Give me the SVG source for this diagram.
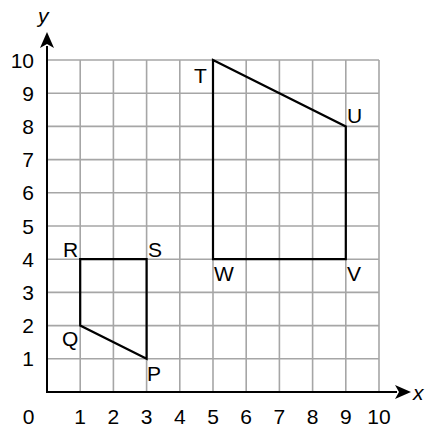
<svg xmlns="http://www.w3.org/2000/svg" width="439" height="435" viewBox="0 0 439 435">
<style>
.grid line{stroke:#a6a6a6;stroke-width:1.6}
.axis{stroke:#000;stroke-width:2;fill:none}
.shape{stroke:#000;stroke-width:2.2;fill:none;stroke-linejoin:miter}
text{font-family:"Liberation Sans",Arial,sans-serif;font-size:21px;fill:#000}
.yl{text-anchor:end}
.xl{text-anchor:middle}
.it{font-style:italic}
</style>
<defs>
<marker id="ah" viewBox="0 0 16 14" refX="2" refY="7" markerWidth="16" markerHeight="14" markerUnits="userSpaceOnUse" orient="auto">
<path d="M0,0 L16,7 L0,14 L4,7 Z" fill="#000"/>
</marker>
</defs>
<rect width="439" height="435" fill="#fff"/>
<g class="grid">
<line x1="80.2" y1="60" x2="80.2" y2="392"/>
<line x1="113.4" y1="60" x2="113.4" y2="392"/>
<line x1="146.6" y1="60" x2="146.6" y2="392"/>
<line x1="179.8" y1="60" x2="179.8" y2="392"/>
<line x1="213" y1="60" x2="213" y2="392"/>
<line x1="246.2" y1="60" x2="246.2" y2="392"/>
<line x1="279.4" y1="60" x2="279.4" y2="392"/>
<line x1="312.6" y1="60" x2="312.6" y2="392"/>
<line x1="345.8" y1="60" x2="345.8" y2="392"/>
<line x1="379" y1="60" x2="379" y2="392"/>
<line x1="47" y1="358.8" x2="379" y2="358.8"/>
<line x1="47" y1="325.6" x2="379" y2="325.6"/>
<line x1="47" y1="292.4" x2="379" y2="292.4"/>
<line x1="47" y1="259.2" x2="379" y2="259.2"/>
<line x1="47" y1="226" x2="379" y2="226"/>
<line x1="47" y1="192.8" x2="379" y2="192.8"/>
<line x1="47" y1="159.6" x2="379" y2="159.6"/>
<line x1="47" y1="126.4" x2="379" y2="126.4"/>
<line x1="47" y1="93.2" x2="379" y2="93.2"/>
<line x1="47" y1="60" x2="379" y2="60"/>
</g>
<g id="axes">
<line class="axis" x1="47" y1="392" x2="47" y2="46" marker-end="url(#ah)"/>
<line class="axis" x1="46" y1="392" x2="397" y2="392" marker-end="url(#ah)"/>
<text class="it" x="38" y="23">y</text>
<text class="it" x="413" y="400">x</text>
</g>
<g id="ylabels" class="yl">
<text x="34" y="68">10</text>
<text x="34" y="101">9</text>
<text x="34" y="134">8</text>
<text x="34" y="167">7</text>
<text x="34" y="200">6</text>
<text x="34" y="234">5</text>
<text x="34" y="267">4</text>
<text x="34" y="300">3</text>
<text x="34" y="333">2</text>
<text x="34" y="366">1</text>
</g>
<g id="xlabels" class="xl">
<text x="28.5" y="424">0</text>
<text x="80.2" y="424">1</text>
<text x="113.4" y="424">2</text>
<text x="146.6" y="424">3</text>
<text x="179.8" y="424">4</text>
<text x="213" y="424">5</text>
<text x="246.2" y="424">6</text>
<text x="279.4" y="424">7</text>
<text x="312.6" y="424">8</text>
<text x="345.8" y="424">9</text>
<text x="379" y="424">10</text>
</g>
<g id="PQRS">
<polygon class="shape" points="146.6,358.8 80.2,325.6 80.2,259.2 146.6,259.2"/>
<text x="147" y="381">P</text>
<text x="62" y="346">Q</text>
<text x="63" y="257">R</text>
<text x="148" y="257">S</text>
</g>
<g id="TUVW">
<polygon class="shape" points="213,60 345.8,126.4 345.8,259.2 213,259.2"/>
<text x="194" y="83">T</text>
<text x="347" y="123">U</text>
<text x="347" y="281">V</text>
<text x="214" y="281">W</text>
</g>
</svg>
